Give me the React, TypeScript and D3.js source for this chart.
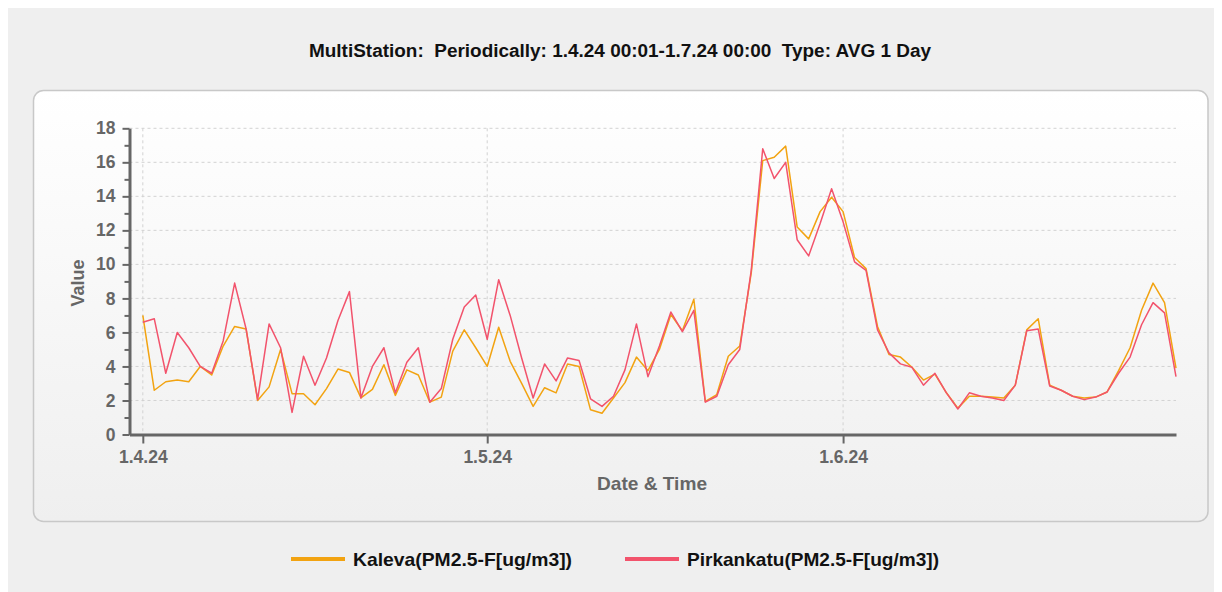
import React, { useEffect, useRef } from 'react';
import * as d3 from 'd3';

const title = 'MultiStation:  Periodically: 1.4.24 00:01-1.7.24 00:00  Type: AVG 1 Day';
const startMs = Date.UTC(2024, 3, 1);
const days = d3.utcDay.range(new Date(startMs), new Date(Date.UTC(2024, 6, 1)));

// daily averages, 1.4.24 .. 30.6.24
const kaleva = [
  7.0, 2.6, 3.1, 3.2, 3.1, 4.0, 3.5, 5.2, 6.35, 6.2,
  2.0, 2.8, 5.0, 2.4, 2.4, 1.75, 2.7, 3.85, 3.65, 2.15,
  2.65, 4.1, 2.3, 3.8, 3.5, 1.9, 2.2, 4.9, 6.15, 5.1,
  4.0, 6.3, 4.3, 3.0, 1.65, 2.75, 2.45, 4.15, 4.0, 1.45,
  1.25, 2.15, 3.05, 4.55, 3.75, 5.0, 7.05, 6.1, 7.95, 1.95,
  2.35, 4.6, 5.2, 9.5, 16.1, 16.3, 16.95, 12.2, 11.5, 13.1,
  13.95, 13.1, 10.4, 9.75, 6.35, 4.7, 4.55, 3.95, 3.2, 3.55,
  2.45, 1.55, 2.25, 2.25, 2.2, 2.15, 2.9, 6.15, 6.8, 2.9,
  2.6, 2.25, 2.15, 2.2, 2.5, 3.75, 5.1, 7.3, 8.9, 7.75,
  3.9,
];
const pirkankatu = [
  6.6, 6.8, 3.6, 6.0, 5.1, 4.0, 3.6, 5.5, 8.9, 6.2,
  2.05, 6.5, 5.1, 1.3, 4.6, 2.9, 4.5, 6.7, 8.4, 2.15,
  4.0, 5.1, 2.45, 4.25, 5.1, 1.9, 2.7, 5.6, 7.5, 8.2,
  5.6, 9.1, 7.0, 4.5, 2.15, 4.15, 3.15, 4.5, 4.35, 2.1,
  1.65, 2.25, 3.8, 6.5, 3.4, 5.2, 7.2, 6.05, 7.3, 1.9,
  2.25, 4.1, 5.0, 9.65, 16.8, 15.05, 16.0, 11.45, 10.5, 12.4,
  14.45, 12.5, 10.15, 9.65, 6.15, 4.8, 4.15, 3.95, 2.9, 3.6,
  2.45, 1.5, 2.45, 2.25, 2.15, 2.0, 2.9, 6.1, 6.2, 2.85,
  2.6, 2.25, 2.05, 2.2, 2.5, 3.6, 4.55, 6.45, 7.75, 7.15,
  3.4,
];

const seriesNames = ['Kaleva(PM2.5-F[ug/m3])', 'Pirkankatu(PM2.5-F[ug/m3])'];
const seriesColors = ['#f2a311', '#f2536c'];
const yTicks = [0, 2, 4, 6, 8, 10, 12, 14, 16, 18];
const yMinorTicks = [1, 3, 5, 7, 9, 11, 13, 15, 17];
const xTicks = [new Date(Date.UTC(2024, 3, 1)), new Date(Date.UTC(2024, 4, 1)), new Date(Date.UTC(2024, 5, 1))];
const xTickLabels = ['1.4.24', '1.5.24', '1.6.24'];

const FONT = '"Liberation Sans", Arial, sans-serif';

const App = () => {
  const svgRef = useRef<SVGSVGElement>(null);

  useEffect(() => {
    document.documentElement.style.overflow = 'hidden';
    const svg = d3.select(svgRef.current);
    svg.selectAll('*').remove();

    const defs = svg.append('defs');
    const grad = defs.append('linearGradient').attr('id', 'panelGrad')
      .attr('x1', 0).attr('y1', 0).attr('x2', 0).attr('y2', 1);
    grad.append('stop').attr('offset', '0%').attr('stop-color', '#ffffff');
    grad.append('stop').attr('offset', '100%').attr('stop-color', '#efefef');

    // page coords (body margin is 8px)
    const root = svg.append('g').attr('transform', 'translate(-8,-8)').style('font-family', FONT);

    root.append('rect').attr('x', 8).attr('y', 8).attr('width', 1214).attr('height', 584).attr('fill', '#efefef');

    root.append('text').attr('x', 620).attr('y', 57).attr('text-anchor', 'middle')
      .style('white-space', 'pre').style('font-weight', 'bold').style('font-size', '18px').attr('fill', '#111')
      .attr('textLength', 622).attr('lengthAdjust', 'spacingAndGlyphs')
      .text(title);

    root.append('rect').attr('x', 33.5).attr('y', 90.5).attr('width', 1174.5).attr('height', 431)
      .attr('rx', 10).attr('fill', 'url(#panelGrad)').attr('stroke', '#c8c8c8').attr('stroke-width', 1.5);

    const x = d3.scaleUtc()
      .domain([new Date(startMs - 1.16 * 864e5), new Date(startMs + 90 * 864e5)])
      .range([129.5, 1176]);
    const y = d3.scaleLinear().domain([0, 18]).range([434.5, 128.3]);

    // grid
    root.append('g').selectAll('line').data(yTicks.slice(1)).join('line')
      .attr('x1', 129.5).attr('x2', 1176).attr('y1', d => y(d)).attr('y2', d => y(d))
      .attr('stroke', '#d2d2d2').attr('stroke-dasharray', '3,3');
    root.append('g').selectAll('line').data(xTicks).join('line')
      .attr('x1', d => x(d)).attr('x2', d => x(d)).attr('y1', y(18)).attr('y2', y(0))
      .attr('stroke', '#d2d2d2').attr('stroke-dasharray', '3,3');

    // series
    const line = d3.line<number>().x((d, i) => x(days[i])).y(d => y(d));
    [kaleva, pirkankatu].forEach((vals, k) => {
      root.append('path').datum(vals).attr('d', line).attr('fill', 'none')
        .attr('stroke', seriesColors[k]).attr('stroke-width', 1.5).attr('stroke-linejoin', 'round');
    });

    // axes
    const yMinor = root.append('g').attr('transform', 'translate(129.5,0)')
      .call(d3.axisLeft(y).tickValues(yMinorTicks).tickSize(5).tickSizeOuter(0).tickFormat(() => ''));
    yMinor.select('.domain').remove();
    const yAx = root.append('g').attr('transform', 'translate(129.5,0)')
      .call(d3.axisLeft(y).tickValues(yTicks).tickSize(7).tickSizeOuter(0).tickPadding(7).tickFormat(d3.format('d')));
    const xAx = root.append('g').attr('transform', 'translate(0,434.5)')
      .call(d3.axisBottom(x).tickValues(xTicks).tickSize(9).tickSizeOuter(0).tickPadding(7)
        .tickFormat((d, i) => xTickLabels[i]));
    [yMinor, yAx, xAx].forEach(ax => {
      ax.selectAll('line').attr('stroke', '#666').attr('stroke-width', 2);
      ax.select('.domain').attr('stroke', '#666').attr('stroke-width', 3);
      ax.selectAll('text').attr('fill', '#666').style('font-family', FONT)
        .style('font-size', '17.5px').style('font-weight', 'bold');
    });

    root.append('text').attr('transform', 'translate(84,283) rotate(-90)').attr('text-anchor', 'middle')
      .style('font-size', '18px').style('font-weight', 'bold').attr('fill', '#666').text('Value');
    root.append('text').attr('x', 652).attr('y', 490).attr('text-anchor', 'middle')
      .style('font-size', '19px').style('font-weight', 'bold').attr('fill', '#666')
      .attr('textLength', 110).attr('lengthAdjust', 'spacingAndGlyphs').text('Date & Time');

    // legend
    const legendX = [291, 625];
    const legendW = [219, 252];
    seriesNames.forEach((name, k) => {
      root.append('line').attr('x1', legendX[k]).attr('x2', legendX[k] + 54).attr('y1', 559).attr('y2', 559)
        .attr('stroke', seriesColors[k]).attr('stroke-width', 4);
      root.append('text').attr('x', legendX[k] + 62).attr('y', 566)
        .style('font-size', '19px').style('font-weight', 'bold').attr('fill', '#111')
        .attr('textLength', legendW[k]).attr('lengthAdjust', 'spacingAndGlyphs').text(name);
    });
  }, []);

  return <svg ref={svgRef} width={1214} height={584} style={{ display: 'block' }} />;
};

export default App;
